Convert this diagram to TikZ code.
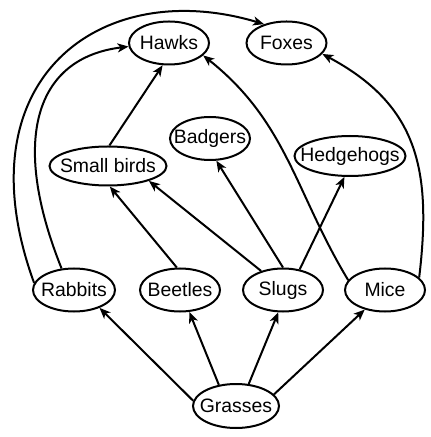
\documentclass[tikz,border=0pt]{standalone}
\usepackage{fontspec}
\setmainfont{Liberation Sans}
\usepackage{tikz}
\usetikzlibrary{shapes,arrows.meta,positioning}

\tikzset{
  species/.style={ellipse, draw, line width=1pt, inner sep=0pt,
    minimum width=40pt, minimum height=21.5pt,
    font=\fontsize{9.7}{11.6}\selectfont},
  eats/.style={-{Stealth[length=5.5pt,width=4.5pt,inset=1.5pt]}, line width=1pt},
}
\newcommand{\lab}[1]{\makebox[0pt]{#1}}

\begin{document}
\begin{tikzpicture}[x=0.5pt, y=-0.5pt]
    \useasboundingbox (0,0) rectangle (431,437);
    % predators on top, producers at the bottom
    \node[species] (hawks) at (169,43) {\lab{Hawks}};
    \node[species] (foxes) at (286.5,43) {\lab{Foxes}};
    \node[species] (badgers) at (210,138.5) {\lab{Badgers}};
    \node[species, minimum width=58.5pt, minimum height=19.5pt] (birds) at (108,166) {\lab{Small birds}};
    \node[species, minimum width=55.5pt, minimum height=20pt] (hedgehogs) at (350,156) {\lab{Hedgehogs}};
    \node[species, minimum width=41pt] (rabbits) at (74,290) {\lab{Rabbits}};
    \node[species] (beetles) at (180,290) {\lab{Beetles}};
    \node[species] (slugs) at (283,290) {\lab{Slugs}};
    \node[species] (mice) at (385,290) {\lab{Mice}};
    \node[species, minimum width=43pt, minimum height=22pt] (grasses) at (236,406) {\lab{Grasses}};

    \draw[eats] (grasses.173) -- (rabbits.-35);
    \draw[eats] (grasses.129) -- (beetles.-67);
    \draw[eats] (grasses.60) -- (slugs.-102);
    \draw[eats] (grasses.17) -- (mice.-136);
    \draw[eats] (beetles.98) -- (birds.-85);
    \draw[eats] (slugs.139) -- (birds.-20);
    \draw[eats] (slugs.90) -- (badgers.-74);
    \draw[eats] (slugs.51) -- (hedgehogs.-105);
    \draw[eats] (birds.86) -- (hawks.-106);
    % long curved links
    \draw[eats] (rabbits.120) .. controls (10,140) and (35,58) .. (hawks.185);
    \draw[eats] (rabbits.170) .. controls (-40,80) and (100,-25) .. (foxes.140);
    \draw[eats] (mice.165) .. controls (295,192) and (287,122) .. (hawks.-20);
    \draw[eats] (mice.20) .. controls (432,170) and (418,105) .. (foxes.-17);
\end{tikzpicture}
\end{document}
